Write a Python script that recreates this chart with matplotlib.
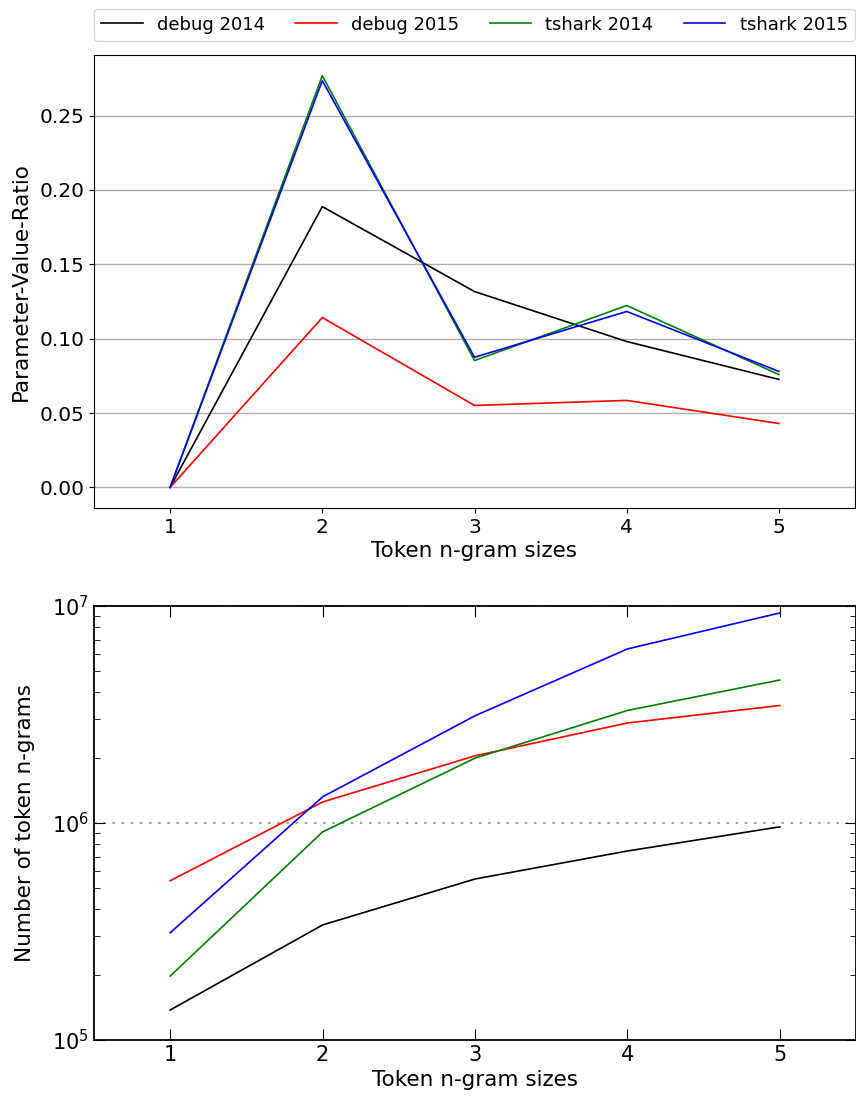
import matplotlib
matplotlib.use("Agg")
import matplotlib.pyplot as plt
from matplotlib.ticker import LogLocator

# n-gram sizes on the x axis
sizes = [1, 2, 3, 4, 5]
labels = ["debug 2014", "debug 2015", "tshark 2014", "tshark 2015"]
colors = ["black", "red", "green", "blue"]

# parameter-value-ratio per n-gram size
ratio_debug_2014 = [0.0, 0.1888, 0.1317, 0.0981, 0.0726]
ratio_debug_2015 = [0.0, 0.1142, 0.0551, 0.0585, 0.0430]
ratio_tshark_2014 = [0.0, 0.2769, 0.0853, 0.1223, 0.0759]
ratio_tshark_2015 = [0.0, 0.2735, 0.0875, 0.1183, 0.0780]

# number of token n-grams per n-gram size
count_debug_2014 = [1.375e5, 3.39e5, 5.52e5, 7.43e5, 9.6e5]
count_debug_2015 = [5.42e5, 1.25e6, 2.04e6, 2.89e6, 3.48e6]
count_tshark_2014 = [1.97e5, 9.1e5, 1.99e6, 3.3e6, 4.56e6]
count_tshark_2015 = [3.12e5, 1.32e6, 3.12e6, 6.34e6, 9.29e6]

ratios = [ratio_debug_2014, ratio_debug_2015, ratio_tshark_2014, ratio_tshark_2015]
counts = [count_debug_2014, count_debug_2015, count_tshark_2014, count_tshark_2015]

fig = plt.figure(figsize=(8.56, 11.02), dpi=100)

# upper chart
ax1 = fig.add_axes([94 / 856, 1 - 508 / 1102, 761 / 856, 453 / 1102])
for vals, lab, col in zip(ratios, labels, colors):
    ax1.plot(sizes, vals, color=col, lw=1.2, label=lab)
ax1.set_xlim(0.5, 5.5)
ax1.margins(y=0.05)
ax1.set_xticks(sizes)
ax1.yaxis.grid(True, color="#b0b0b0", lw=1.0)
ax1.set_axisbelow(True)
ax1.set_ylabel("Parameter-Value-Ratio", fontsize=15.5, labelpad=6)
ax1.set_xlabel("Token n-gram sizes", fontsize=15.5, labelpad=3)
ax1.tick_params(labelsize=14.5)
ax1.yaxis.set_major_formatter(matplotlib.ticker.FormatStrFormatter("%.2f"))
ax1.legend(loc="lower left", bbox_to_anchor=(0, 1.031, 1.0, 0.1), mode="expand",
           ncol=4, fontsize=13, frameon=True, borderaxespad=0, handlelength=2.3)

# lower chart, log scale, classic look
ax2 = fig.add_axes([94 / 856, 1 - 1040 / 1102, 762 / 856, 434 / 1102])
for vals, lab, col in zip(counts, labels, colors):
    ax2.plot(sizes, vals, color=col, lw=1.2)
ax2.set_yscale("log")
ax2.set_xlim(0.5, 5.5)
ax2.set_ylim(1e5, 1e7)
ax2.set_xticks(sizes)
ax2.yaxis.set_minor_locator(LogLocator(base=10, subs=range(2, 10)))
ax2.yaxis.grid(True, which="major", color="#909090", ls=(0, (1.5, 4)), lw=1.2)
ax2.tick_params(which="both", direction="in", top=True, right=True, labelsize=15)
ax2.tick_params(which="major", length=8)
ax2.tick_params(which="minor", length=4)
ax2.tick_params(axis="x", which="minor", top=False, bottom=False)
for sp in ax2.spines.values():
    sp.set_linewidth(1.3)
ax2.set_ylabel("Number of token n-grams", fontsize=15.5, labelpad=12)
ax2.set_xlabel("Token n-gram sizes", fontsize=15.5, labelpad=4)

fig.savefig("out.png", dpi=100)
